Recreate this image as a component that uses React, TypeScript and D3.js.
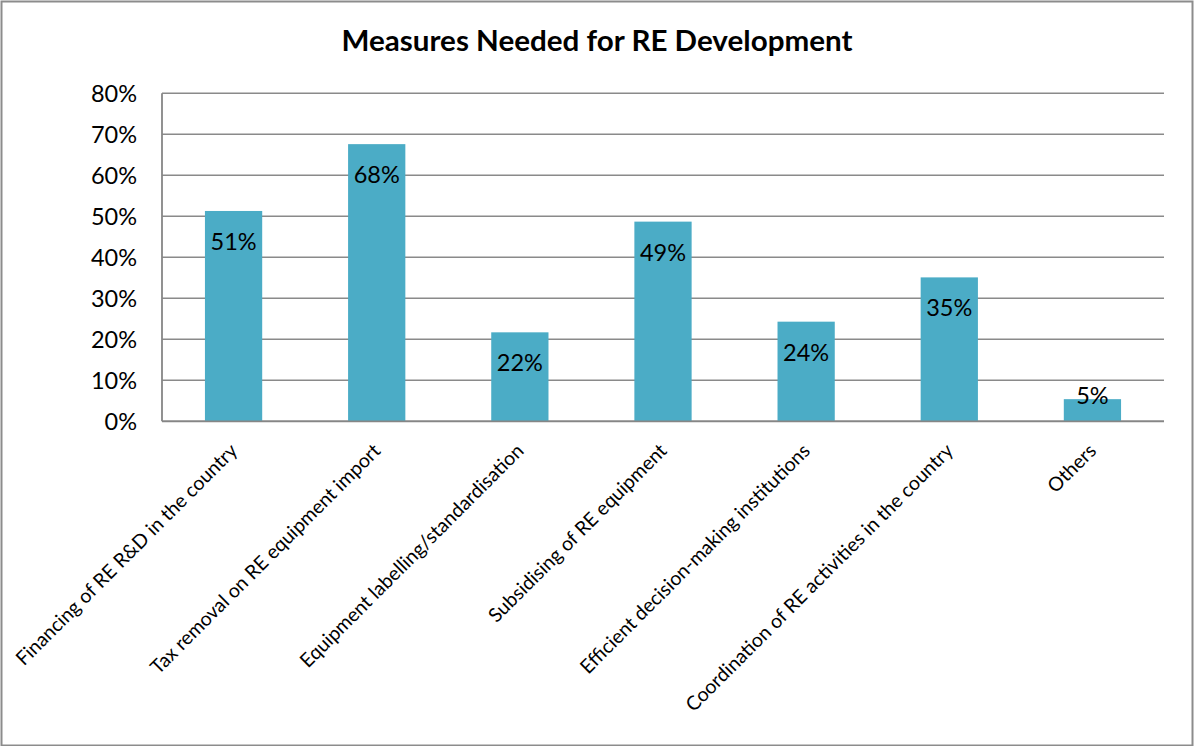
import React from "react";
import * as d3 from "d3";

const title = "Measures Needed for RE Development";
const categories = [
  "Financing of RE R&D in the country",
  "Tax removal on RE equipment import",
  "Equipment labelling/standardisation",
  "Subsidising of RE equipment",
  "Efficient decision-making institutions",
  "Coordination of RE activities in the country",
  "Others",
];
const values = [0.513, 0.676, 0.217, 0.487, 0.243, 0.351, 0.054];
const yTicks = [0, 0.1, 0.2, 0.3, 0.4, 0.5, 0.6, 0.7, 0.8];

const W = 1194;
const H = 746;
const plot = { left: 162, right: 1164, top: 93.3, bottom: 421.3 };
const FONT = "Lato, 'Open Sans', sans-serif";
const BAR = "#4BACC6";
const GRID = "#8a8a8a";

export default function App() {
  const x = d3
    .scaleBand<string>()
    .domain(categories)
    .range([plot.left, plot.right])
    .paddingInner(0.6)
    .paddingOuter(0.3);
  const y = d3.scaleLinear().domain([0, 0.8]).range([plot.bottom, plot.top]);
  const pct = d3.format(".0%");

  return (
    <svg
      width={W}
      height={H}
      style={{ position: "absolute", left: 0, top: 0, background: "#fff" }}
      fontFamily={FONT}
    >
      <rect x={0} y={0} width={W} height={H} fill="#fff" />
      <rect
        x={1.5}
        y={1.5}
        width={1191}
        height={744}
        fill="none"
        stroke="#8c8c8c"
        strokeWidth={2}
      />
      <text
        x={W / 2}
        y={50.7}
        textAnchor="middle"
        fontSize={28}
        fontWeight="bold"
        fill="#000"
        textLength={511}
        lengthAdjust="spacingAndGlyphs"
      >
        {title}
      </text>

      {yTicks.map((t) => (
        <g key={t}>
          <line
            x1={plot.left}
            x2={plot.right}
            y1={y(t)}
            y2={y(t)}
            stroke={GRID}
            strokeWidth={1.6}
          />
          <text
            x={137}
            y={y(t)}
            textAnchor="end"
            dominantBaseline="central"
            fontSize={23.5}
            fill="#000"
          >
            {pct(t)}
          </text>
        </g>
      ))}

      {categories.map((c, i) => {
        const v = values[i];
        const bx = x(c)!;
        const top = y(v);
        const labelY = Math.min(top + 30, plot.bottom - 26.5);
        return (
          <g key={c}>
            <rect
              x={bx}
              y={top}
              width={x.bandwidth()}
              height={plot.bottom - top}
              fill={BAR}
            />
            <text
              x={bx + x.bandwidth() / 2}
              y={labelY}
              textAnchor="middle"
              dominantBaseline="central"
              fontSize={23.5}
              fill="#000"
            >
              {pct(v)}
            </text>
          </g>
        );
      })}

      <line
        x1={plot.left}
        x2={plot.left}
        y1={plot.top}
        y2={plot.bottom}
        stroke="#868686"
        strokeWidth={1.8}
      />
      <line
        x1={plot.left}
        x2={plot.right}
        y1={plot.bottom}
        y2={plot.bottom}
        stroke="#868686"
        strokeWidth={1.8}
      />

      {categories.map((c) => {
        const cx = x(c)! + x.bandwidth() / 2;
        return (
          <text
            key={c}
            transform={`translate(${cx + 5},${452}) rotate(-45)`}
            textAnchor="end"
            fontSize={19.5}
            fill="#000"
          >
            {c}
          </text>
        );
      })}
    </svg>
  );
}
